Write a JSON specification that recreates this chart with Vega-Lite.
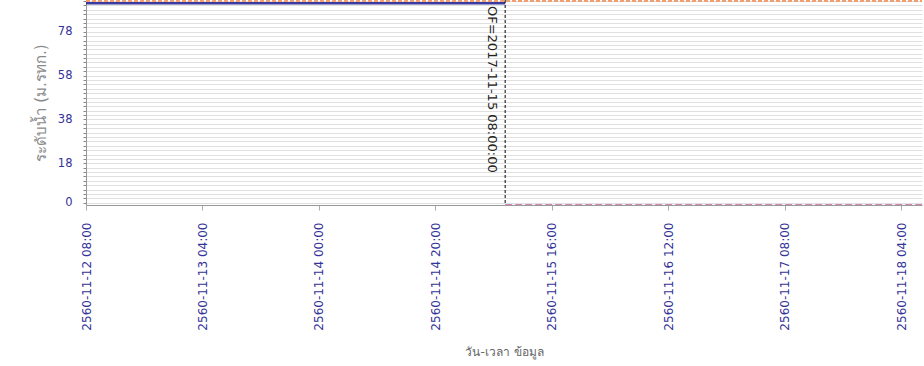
{
  "$schema": "https://vega.github.io/schema/vega-lite/v6.json",
  "width": 836,
  "height": 205,
  "autosize": {"type": "none"},
  "padding": {"left": 86, "top": 0, "right": 2, "bottom": 161},
  "background": "white",
  "config": {
    "view": {"stroke": null},
    "font": "DejaVu Sans"
  },
  "datasets": {
    "levels": [
      {"series": "ระดับน้ำ", "time": "2017-11-12T08:00:00Z", "level": 91.0},
      {"series": "ระดับน้ำ", "time": "2017-11-15T08:00:00Z", "level": 91.0},
      {"series": "ตลิ่ง", "time": "2017-11-12T08:00:00Z", "level": 92.1},
      {"series": "ตลิ่ง", "time": "2017-11-18T07:36:00Z", "level": 92.1},
      {"series": "ท้องน้ำ", "time": "2017-11-15T08:00:00Z", "level": -1.0},
      {"series": "ท้องน้ำ", "time": "2017-11-18T07:36:00Z", "level": -1.0}
    ],
    "marker": [
      {"time": "2017-11-15T08:00:00Z", "level": 92.5, "label": "OF=2017-11-15 08:00:00"}
    ]
  },
  "resolve": {"axis": {"y": "independent"}},
  "layer": [
    {
      "data": {"name": "levels"},
      "mark": {"type": "line", "opacity": 0},
      "encoding": {
        "x": {"field": "time", "type": "temporal"},
        "y": {
          "field": "level",
          "type": "quantitative",
          "axis": {
            "orient": "left",
            "values": [0,2,4,6,8,10,12,14,16,18,20,22,24,26,28,30,32,34,36,38,40,42,44,46,48,50,52,54,56,58,60,62,64,66,68,70,72,74,76,78,80,82,84,86,88,90,92],
            "labels": false,
            "tickSize": 3,
            "tickColor": "#888888",
            "domainColor": "#999999",
            "grid": true,
            "gridColor": "#e0e0e0",
            "gridWidth": 1,
            "title": null
          }
        }
      }
    },
    {
      "data": {"name": "levels"},
      "mark": {"type": "line", "clip": true},
      "encoding": {
        "x": {
          "field": "time",
          "type": "temporal",
          "scale": {
            "type": "utc",
            "domain": [
              {"year": 2017, "month": 11, "date": 12, "hours": 8, "utc": true},
              {"year": 2017, "month": 11, "date": 18, "hours": 7, "minutes": 36, "utc": true}
            ],
            "nice": false
          },
          "axis": {
            "values": [
              {"year": 2017, "month": 11, "date": 12, "hours": 8, "utc": true},
              {"year": 2017, "month": 11, "date": 13, "hours": 4, "utc": true},
              {"year": 2017, "month": 11, "date": 14, "hours": 0, "utc": true},
              {"year": 2017, "month": 11, "date": 14, "hours": 20, "utc": true},
              {"year": 2017, "month": 11, "date": 15, "hours": 16, "utc": true},
              {"year": 2017, "month": 11, "date": 16, "hours": 12, "utc": true},
              {"year": 2017, "month": 11, "date": 17, "hours": 8, "utc": true},
              {"year": 2017, "month": 11, "date": 18, "hours": 4, "utc": true}
            ],
            "labelExpr": "'2560' + utcFormat(datum.value, '-%m-%d %H:%M')",
            "labelAngle": -90,
            "labelFontSize": 12,
            "labelColor": "#333399",
            "labelPadding": 12,
            "labelOverlap": false,
            "labelFlush": false,
            "tickSize": 5,
            "tickColor": "#aaaaaa",
            "domainColor": "#999999",
            "grid": false,
            "title": "วัน-เวลา ข้อมูล",
            "titleFontSize": 12,
            "titleFontWeight": "normal",
            "titleColor": "#666666",
            "titlePadding": 16
          }
        },
        "y": {
          "field": "level",
          "type": "quantitative",
          "scale": {"domain": [-1, 92.5], "nice": false, "zero": false},
          "axis": {
            "orient": "left",
            "values": [0, 18, 38, 58, 78],
            "labelOverlap": false,
            "labelFlush": false,
            "labelFontSize": 11.5,
            "labelColor": "#333399",
            "labelPadding": 11,
            "tickSize": 3,
            "tickOpacity": 0,
            "domain": false,
            "grid": false,
            "title": "ระดับน้ำ (ม.รทก.)",
            "titleFontSize": 15,
            "titleFontWeight": "normal",
            "titleColor": "#8a8a8a",
            "titlePadding": 9
          }
        },
        "color": {
          "field": "series",
          "type": "nominal",
          "scale": {"domain": ["ระดับน้ำ", "ตลิ่ง", "ท้องน้ำ"], "range": ["#3a3aa0", "#f0a070", "#c8609a"]},
          "legend": null
        },
        "strokeDash": {
          "field": "series",
          "type": "nominal",
          "scale": {"domain": ["ระดับน้ำ", "ตลิ่ง", "ท้องน้ำ"], "range": [[1, 0], [4, 2], [7, 3]]},
          "legend": null
        },
        "size": {
          "field": "series",
          "type": "nominal",
          "scale": {"domain": ["ระดับน้ำ", "ตลิ่ง", "ท้องน้ำ"], "range": [2.5, 1.5, 2]},
          "legend": null
        }
      }
    },
    {
      "data": {"name": "marker"},
      "mark": {"type": "rule", "color": "#000000", "strokeDash": [3, 2], "strokeWidth": 1},
      "encoding": {
        "x": {"field": "time", "type": "temporal"}
      }
    },
    {
      "data": {"name": "marker"},
      "mark": {"type": "text", "angle": 90, "align": "left", "baseline": "middle", "dx": 6, "dy": 13, "fontSize": 13, "color": "#222222"},
      "encoding": {
        "x": {"field": "time", "type": "temporal"},
        "y": {"field": "level", "type": "quantitative", "axis": null},
        "text": {"field": "label"}
      }
    }
  ]
}
